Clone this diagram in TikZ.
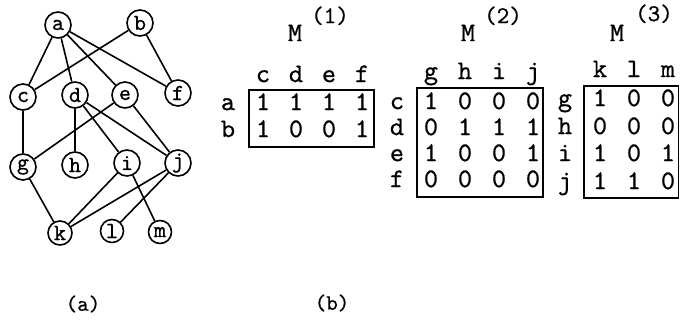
\documentclass[tikz,border=0pt]{standalone}
\usepackage{fontspec}
\newfontfamily\cour{lmmono10-regular.otf}[FakeBold=0.6]
\begin{document}
\begin{tikzpicture}[x=1pt,y=-1pt,
  vtx/.style={circle,draw,line width=1.6pt,inner sep=0pt,minimum size=26pt,font=\cour\fontsize{23}{23}\selectfont},
  edge/.style={line width=1.6pt},
  mtx/.style={inner sep=0pt,text height=0.62em,text depth=0pt,font=\cour\fontsize{27}{27}\selectfont},
  sup/.style={inner sep=0pt,text height=0.62em,text depth=0pt,font=\cour\fontsize{24}{24}\selectfont},
  box/.style={draw,line width=1.5pt},
  lbl/.style={inner sep=0pt,font=\cour\fontsize{22}{22}\selectfont}]
\useasboundingbox (0,0) rectangle (680,321);
% graph
\node[vtx] (a) at (58,25) {a};
\node[vtx] (b) at (140,23) {b};
\node[vtx] (c) at (23,97) {c};
\node[vtx] (d) at (75,95) {d};
\node[vtx] (e) at (125,95) {e};
\node[vtx] (f) at (178,93) {f};
\node[vtx] (g) at (23,167) {g};
\node[vtx] (h) at (75,165) {h};
\node[vtx] (i) at (127,163) {i};
\node[vtx] (j) at (178,163) {j};
\node[vtx,minimum size=24pt] (k) at (60,233) {k};
\node[vtx,minimum size=23pt] (l) at (112,231) {l};
\node[vtx,minimum size=23pt] (m) at (160,232) {m};
\foreach \u/\v in {a/c,a/d,a/e,a/f,b/c,b/f,c/g,d/h,d/i,d/j,e/g,e/j,g/k,i/k,i/m,j/k,j/l}
  \draw[edge] (\u) -- (\v);
\node[lbl] (la) at (83,304) {(a)};
\node[lbl] (lb) at (332,303) {(b)};
% M1
\node[mtx] (m1) at (295,38) {M};
\node[sup] (m1s) at (330,20) {(1)};
\foreach \t [count=\n] in {c,d,e,f} \node[mtx] (h1\n) at (230+33*\n,79) {\t};
\node[mtx] (r1a) at (228,107) {a};
\node[mtx] (r1b) at (228,134) {b};
\foreach \t [count=\n] in {1,1,1,1} \node[mtx] (a1\n) at (230+33*\n,107) {\t};
\foreach \t [count=\n] in {1,0,0,1} \node[mtx] (b1\n) at (230+33*\n,134) {\t};
\draw[box] (249,90) rectangle (374,147);
% M2
\node[mtx] (m2) at (468,38) {M};
\node[sup] (m2s) at (503,20) {(2)};
\foreach \t [count=\n] in {g,h,i,j} \node[mtx] (h2\n) at (397+34*\n,76) {\t};
\foreach \r/\y [count=\k] in {c/106,d/132,e/158,f/184} \node[mtx] (r2\k) at (397,\y) {\r};
\foreach \t [count=\n] in {1,0,0,0} \node[mtx] (c2\n) at (397+34*\n,106) {\t};
\foreach \t [count=\n] in {0,1,1,1} \node[mtx] (d2\n) at (397+34*\n,132) {\t};
\foreach \t [count=\n] in {1,0,0,1} \node[mtx] (e2\n) at (397+34*\n,158) {\t};
\foreach \t [count=\n] in {0,0,0,0} \node[mtx] (f2\n) at (397+34*\n,184) {\t};
\draw[box] (417,88) rectangle (543,197);
% M3
\node[mtx] (m3) at (617,38) {M};
\node[sup] (m3s) at (654,18) {(3)};
\foreach \t [count=\n] in {k,l,m} \node[mtx] (h3\n) at (566+34*\n,74) {\t};
\foreach \r/\y [count=\k] in {g/103,h/131,i/158,j/186} \node[mtx] (r3\k) at (565,\y) {\r};
\foreach \t [count=\n] in {1,0,0} \node[mtx] (g3\n) at (566+34*\n,103) {\t};
\foreach \t [count=\n] in {0,0,0} \node[mtx] (h3r\n) at (566+34*\n,131) {\t};
\foreach \t [count=\n] in {1,0,1} \node[mtx] (i3\n) at (566+34*\n,158) {\t};
\foreach \t [count=\n] in {1,1,0} \node[mtx] (j3\n) at (566+34*\n,186) {\t};
\draw[box] (584,86) rectangle (678.5,198);
\end{tikzpicture}
\end{document}
